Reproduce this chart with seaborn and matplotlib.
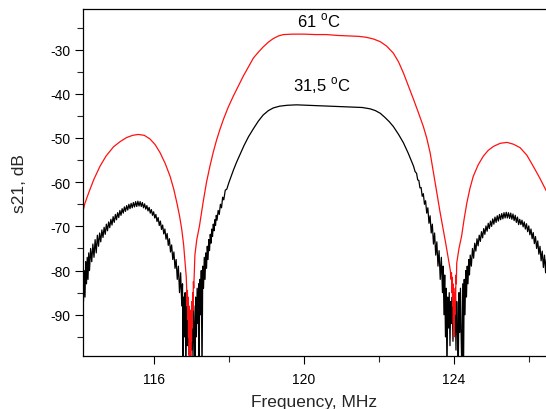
import matplotlib
matplotlib.use("Agg")
import matplotlib.pyplot as plt
from matplotlib.ticker import MultipleLocator
import numpy as np
import pandas as pd
import seaborn as sns

# 31,5 C trace (black), frequency in MHz, s21 in dB
freq_cold = [
    114.10, 114.12, 114.14, 114.16, 114.18, 114.20, 114.22, 114.24, 114.26, 114.28,
    114.31, 114.34, 114.37, 114.40, 114.43, 114.46, 114.49, 114.52, 114.55, 114.58,
    114.61, 114.64, 114.67, 114.70, 114.73, 114.76, 114.79, 114.82, 114.85, 114.88,
    114.91, 114.94, 114.97, 115.00, 115.03, 115.06, 115.09, 115.12, 115.15, 115.18,
    115.21, 115.24, 115.27, 115.30, 115.33, 115.36, 115.39, 115.42, 115.45, 115.48,
    115.51, 115.54, 115.57, 115.60, 115.63, 115.66, 115.69, 115.72, 115.75, 115.78,
    115.81, 115.84, 115.87, 115.90, 115.93, 115.96, 115.99, 116.02, 116.05, 116.08,
    116.11, 116.14, 116.17, 116.20, 116.23, 116.26, 116.29, 116.32, 116.35, 116.38,
    116.41, 116.44, 116.47, 116.50, 116.53, 116.56, 116.59, 116.62, 116.65, 116.68,
    116.71, 116.74,
    116.76, 116.77, 116.79, 116.81, 116.83, 116.85, 116.87, 116.89, 116.91, 116.93,
    116.95, 116.96, 116.98, 117.00, 117.02, 117.04, 117.06, 117.08, 117.09, 117.11,
    117.13, 117.15, 117.17, 117.19, 117.20, 117.22, 117.24, 117.26, 117.28, 117.30,
    117.32, 117.34, 117.36, 117.38, 117.40, 117.42, 117.44, 117.46, 117.48, 117.50,
    117.52, 117.54, 117.56, 117.58, 117.60, 117.62, 117.64, 117.66, 117.68, 117.71,
    117.74, 117.77, 117.80, 117.83, 117.86, 117.90, 117.94, 118.00, 118.06, 118.12,
    118.20, 118.30, 118.40, 118.52, 118.65, 118.78, 118.91, 119.05, 119.18, 119.35,
    119.55, 119.80, 120.10, 120.40, 120.70, 121.00, 121.30, 121.55, 121.76, 121.90,
    122.03, 122.15, 122.27, 122.38, 122.52, 122.65, 122.78, 122.92,
    122.96, 123.00, 123.03, 123.06, 123.09, 123.12, 123.15, 123.18, 123.21, 123.24,
    123.27, 123.30, 123.33, 123.36, 123.39, 123.42, 123.45, 123.48, 123.51, 123.54,
    123.57, 123.60, 123.63, 123.66, 123.69,
    123.71, 123.73, 123.75, 123.77, 123.79, 123.81, 123.83, 123.85, 123.87, 123.89,
    123.91, 123.93, 123.95, 123.97, 123.99, 124.01, 124.03, 124.05, 124.07, 124.09,
    124.11, 124.13, 124.15, 124.17, 124.19, 124.21, 124.23, 124.25, 124.27, 124.29,
    124.31,
    124.33, 124.35, 124.37, 124.39, 124.41, 124.43, 124.46, 124.49, 124.52, 124.55,
    124.58, 124.61, 124.64, 124.67, 124.70, 124.73, 124.76, 124.79, 124.82, 124.85,
    124.88, 124.91, 124.94, 124.97, 125.00, 125.03, 125.06, 125.09, 125.12, 125.15,
    125.18, 125.21, 125.24, 125.27, 125.30, 125.33, 125.36, 125.39, 125.42, 125.45,
    125.48, 125.51, 125.54, 125.57, 125.60, 125.63, 125.66, 125.69, 125.72, 125.75,
    125.78, 125.81, 125.84, 125.87, 125.90, 125.93, 125.96, 125.99, 126.02, 126.05,
    126.08, 126.11, 126.14, 126.17, 126.20, 126.23, 126.26, 126.29, 126.32, 126.35,
    126.38, 126.41, 126.44, 126.46,
]
s21_cold = [
    -79, -87, -80, -86, -78, -83, -77, -82, -76, -80,
    -75, -78, -74, -77, -73, -76, -72, -74.5, -71.5, -73.5,
    -70.8, -72.5, -70.2, -71.8, -69.5, -71, -69, -70.3, -68.4, -69.7,
    -67.8, -69.1, -67.3, -68.5, -66.9, -68, -66.4, -67.5, -66, -67,
    -65.6, -66.6, -65.3, -66.3, -65, -66, -64.8, -65.8, -64.6, -65.6,
    -64.4, -65.5, -64.3, -65.4, -64.4, -65.5, -64.6, -65.8, -64.9, -66.1,
    -65.3, -66.5, -65.7, -67, -66.2, -67.5, -66.7, -68.1, -67.3, -68.9,
    -68, -69.8, -68.8, -70.7, -69.7, -71.7, -70.6, -72.9, -71.6, -74.3,
    -72.8, -75.8, -74.2, -77.5, -75.8, -79.5, -77.5, -82, -79, -85,
    -80.5, -88,
    -83, -104, -86, -95, -85, -104, -88, -97, -87, -99,
    -90, -104, -89, -98, -91, -100, -88, -96, -104, -86,
    -95, -84, -92, -83, -104, -82, -90, -80, -104, -79,
    -84, -77, -82, -76, -79.5, -74.5, -77.5, -73, -75.5, -71.8,
    -73.8, -70.6, -72.3, -69.5, -71, -68.5, -69.8, -67.5, -68.6, -66.4,
    -67.3, -65, -65.8, -63.4, -64, -61.8, -61.6, -60.0, -58.6, -57.2,
    -55.5, -53.6, -51.7, -49.7, -47.9, -46.2, -44.8, -43.8, -43.2, -42.8,
    -42.6, -42.5, -42.6, -42.7, -42.8, -42.9, -43.0, -43.1, -43.4, -43.8,
    -44.4, -45.3, -46.3, -47.4, -49.2, -51.1, -53.5, -56.4,
    -57.6, -58.0, -59.5, -59.6, -61.3, -61.2, -63.2, -62.6, -65, -64.2,
    -67, -65.8, -69.3, -67.6, -71.5, -69.5, -74, -71.5, -76.5, -73.5,
    -79, -75.5, -82, -77, -85,
    -79, -90, -81, -95, -84, -104, -86, -93, -85, -97,
    -87, -92, -86, -96, -88, -94, -86, -98, -87, -93,
    -104, -85, -94, -84, -96, -104, -83, -104, -82, -90,
    -80,
    -86, -79, -83, -77.5, -81, -76.5, -79, -75, -77.2, -73.8,
    -75.6, -72.8, -74.4, -72, -73.4, -71.2, -72.6, -70.5, -71.8, -69.9,
    -71.1, -69.3, -70.5, -68.8, -70, -68.3, -69.5, -67.9, -69.1, -67.6,
    -68.8, -67.3, -68.5, -67.1, -68.3, -66.9, -68.1, -66.8, -68.1, -66.9,
    -68.2, -67, -68.4, -67.2, -68.7, -67.5, -69.1, -67.9, -69.6, -68.4,
    -69.6, -68.6, -70.1, -69.0, -70.6, -69.4, -71.2, -69.9, -71.9, -70.6,
    -72.8, -71.4, -73.9, -72.3, -75, -73.3, -76.3, -74.5, -77.8, -75.6,
    -79.3, -76.5, -80.5, -77.5,
]

# 61 C trace (red)
freq_hot = [
    114.10, 114.15, 114.22, 114.29, 114.40, 114.56, 114.72, 114.92, 115.10, 115.27,
    115.43, 115.58, 115.74, 115.89, 116.03, 116.16, 116.30, 116.43, 116.53, 116.61,
    116.68, 116.74, 116.79, 116.83, 116.86,
    116.87, 116.88, 116.89, 116.90, 116.91, 116.92, 116.93, 116.94, 116.95, 116.96,
    116.97, 116.98, 116.99, 117.00, 117.01, 117.02, 117.03, 117.04, 117.05, 117.06,
    117.09, 117.14, 117.21, 117.31, 117.40, 117.49, 117.58, 117.67, 117.76, 117.85,
    117.98, 118.11, 118.25, 118.38, 118.52, 118.65, 118.78, 118.91, 119.05, 119.18,
    119.32, 119.45, 119.70, 120.00, 120.30, 120.60, 120.90, 121.20, 121.45, 121.65,
    121.85, 122.03, 122.20, 122.38, 122.52, 122.65, 122.78, 122.92, 123.05, 123.18,
    123.27, 123.36, 123.45, 123.54, 123.62, 123.71, 123.78, 123.85, 123.90,
    123.92, 123.93, 123.94, 123.95, 123.96, 123.97, 123.98, 123.99, 124.00, 124.01,
    124.02, 124.03, 124.04, 124.05, 124.06, 124.07,
    124.13, 124.20, 124.27, 124.34, 124.42, 124.51, 124.64, 124.78, 124.91, 125.05,
    125.23, 125.41, 125.58, 125.76, 125.94, 126.11, 126.28, 126.46,
]
s21_hot = [
    -66.8, -65, -63.3, -61.7, -59.3, -56.4, -54.1, -52.0, -50.8, -49.9,
    -49.4, -49.2, -49.4, -50.2, -51.5, -53.3, -55.8, -58.7, -61.7, -64.7,
    -67.6, -70.7, -74.2, -78.3, -81.5,
    -84, -88, -84.5, -91, -86, -95, -88, -104, -90, -98,
    -89, -104, -91, -96, -87, -93, -85, -89, -82.5, -84,
    -76.5, -73, -70, -64.5, -60, -56.4, -53.2, -50.4, -48, -45.8,
    -43, -40.6, -38.2, -36.0, -33.9, -31.9, -30.6, -29.4, -28.3, -27.5,
    -26.9, -26.6, -26.5, -26.5, -26.6, -26.6, -26.8, -26.9, -27.0, -27.2,
    -27.6, -28.2, -29.2, -30.8, -32.8, -35.3, -38.2, -41.3, -44.3, -47.4,
    -50, -53.3, -57.8, -62.4, -66.5, -70.7, -74, -77.5, -80,
    -82, -80.5, -85, -81.5, -88, -83, -92, -85, -95, -86,
    -90, -84, -87, -81, -83, -78.3,
    -75, -72.2, -68.2, -64.7, -61.5, -58.7, -56.1, -54.1, -52.8, -51.9,
    -51.2, -51.0, -51.4, -52.2, -53.9, -56.4, -59.0, -62.0,
]

labels = ["31,5 $^{\\rm o}$C", "61 $^{\\rm o}$C"]
label_pos = [(120.47, -37.9), (120.40, -23.4)]

cold = pd.DataFrame({"freq": freq_cold, "s21": s21_cold})
hot = pd.DataFrame({"freq": freq_hot, "s21": s21_hot})

sns.set_style("ticks")
plt.rcParams["font.family"] = ["Liberation Sans", "DejaVu Sans"]
plt.rcParams["mathtext.fontset"] = "custom"
plt.rcParams["mathtext.rm"] = "Liberation Sans"
plt.rcParams["axes.unicode_minus"] = False

fig = plt.figure(figsize=(5.46, 4.10), dpi=100)
ax = fig.add_axes([83 / 546, 1 - 357.3 / 410, 1 - 83 / 546, (357.3 - 9.5) / 410])

sns.lineplot(data=cold, x="freq", y="s21", color="black", linewidth=0.9,
             estimator=None, sort=False, ax=ax)
sns.lineplot(data=hot, x="freq", y="s21", color="#ff1010", linewidth=0.9,
             estimator=None, sort=False, ax=ax)

for txt, (fx, fy) in zip(labels, label_pos):
    ax.text(fx, fy, txt, ha="center", va="center", fontsize=12, color="black")

ax.set_xlim(114.107, 126.45)
ax.set_ylim(-99.4, -20.7)
ax.xaxis.set_major_locator(MultipleLocator(4))
ax.xaxis.set_minor_locator(MultipleLocator(2))
ax.yaxis.set_minor_locator(MultipleLocator(5))
ax.set_yticks([-90, -80, -70, -60, -50, -40, -30])
ax.tick_params(which="major", direction="out", length=6, width=0.8,
               labelsize=10, pad=3, colors="black")
ax.tick_params(axis="x", which="major", pad=5)
ax.tick_params(which="minor", direction="out", length=4, width=0.8)
ax.tick_params(axis="x", top=False)

ax.spines["right"].set_visible(False)
for s in ["left", "bottom", "top"]:
    ax.spines[s].set_linewidth(0.9)
    ax.spines[s].set_color("black")

ax.set_xlabel("Frequency, MHz", fontsize=12.5, labelpad=6)
ax.set_ylabel("s21, dB", fontsize=12.5, labelpad=17)

fig.savefig("out.png", dpi=100)
